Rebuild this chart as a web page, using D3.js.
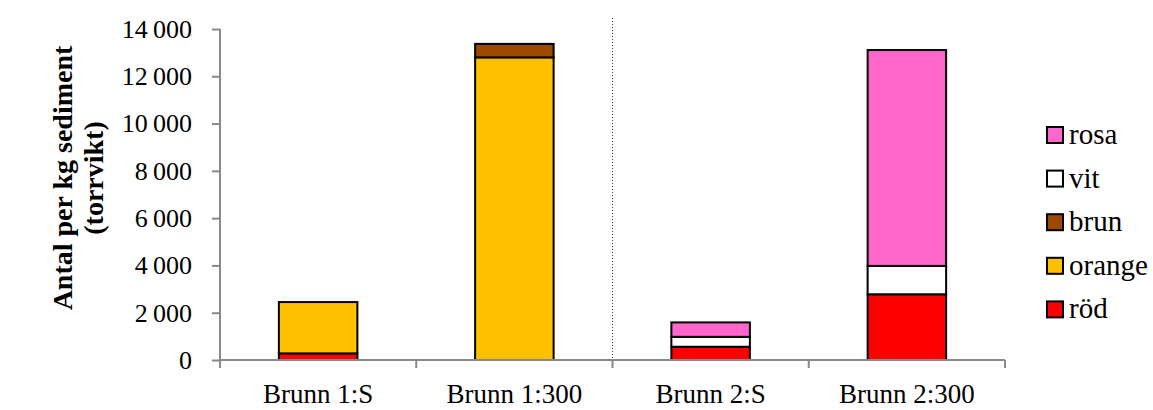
<!DOCTYPE html>
<html><head><meta charset="utf-8">
<script src="https://cdn.jsdelivr.net/npm/d3@7"></script>
</head><body style="margin:0;background:#fff">
<svg id="c" width="1153" height="410" style="display:block"></svg>
<script>
const categories = ["Brunn 1:S", "Brunn 1:300", "Brunn 2:S", "Brunn 2:300"];
const seriesNames = ["röd", "orange", "brun", "vit", "rosa"];
const rod    = [280, 0, 560, 2780];
const orange = [2170, 12800, 0, 0];
const brun   = [0, 570, 0, 0];
const vit    = [0, 0, 420, 1200];
const rosa   = [0, 0, 610, 9130];
const yTicks = [0, 2000, 4000, 6000, 8000, 10000, 12000, 14000];
const colors = {"röd":"#FF0000","orange":"#FFC000","brun":"#9C4A00","vit":"#FFFFFF","rosa":"#FF66CC"};
const valuesBySeries = {"röd":rod,"orange":orange,"brun":brun,"vit":vit,"rosa":rosa};

const table = categories.map((c,i)=>{const o={cat:c}; seriesNames.forEach(s=>o[s]=valuesBySeries[s][i]); return o;});
const stack = d3.stack().keys(seriesNames)(table);

const FF = '"Liberation Serif"';
const svg = d3.select("#c");
const x = d3.scaleBand().domain(categories).range([220, 1005]).paddingInner(0).paddingOuter(0);
const y = d3.scaleLinear().domain([0, 14000]).range([360, 29]);
const loc = d3.formatLocale({decimal:",", thousands:"\u2009", grouping:[3], currency:["",""]});
const fmt = loc.format(",d");
const axisCol = "#898989";

// bars
const barW = x.bandwidth()*0.4;
stack.forEach(layer=>{
  svg.append("g").selectAll("rect").data(layer.filter(d=>d[1]-d[0]>0)).join("rect")
    .attr("x", d=>x(d.data.cat)+(x.bandwidth()-barW)/2)
    .attr("width", barW)
    .attr("y", d=>y(d[1]))
    .attr("height", d=>y(d[0])-y(d[1]))
    .attr("fill", colors[layer.key])
    .attr("stroke", "#000").attr("stroke-width", 2);
});

// divider
svg.append("line").attr("x1", x("Brunn 2:S")).attr("x2", x("Brunn 2:S"))
  .attr("y1", 18).attr("y2", y(0)).attr("stroke", "#333").attr("stroke-width", 1).attr("stroke-dasharray", "1,2");

// y axis
const ya = svg.append("g").attr("transform", "translate(220,0)")
  .call(d3.axisLeft(y).tickValues(yTicks).tickFormat(fmt).tickSize(8).tickPadding(20));
ya.attr("font-family", null);
ya.selectAll("path,line").attr("stroke", axisCol).attr("stroke-width", 2);
ya.select("path").attr("d", `M0,${y(14000)}V${y(0)}`);
ya.selectAll("text").style("font-family", FF).style("font-size", "26px").attr("fill", "#000");

// x axis
const xa = svg.append("g").attr("transform", `translate(0,${y(0)})`)
  .call(d3.axisBottom(x).tickSize(0).tickPadding(24));
xa.attr("font-family", null);
xa.select("path").attr("d", "M220,0H1005").attr("stroke", axisCol).attr("stroke-width", 2);
xa.selectAll("text").style("font-family", FF).style("font-size", "27px").attr("fill", "#000");
const bounds = categories.map(c=>x(c)).concat([x.range()[1]]);
svg.append("g").selectAll("line").data(bounds).join("line")
  .attr("x1", d=>d).attr("x2", d=>d).attr("y1", y(0)).attr("y2", y(0)+8)
  .attr("stroke", axisCol).attr("stroke-width", 2);

// y title
const yt = svg.append("text").attr("transform", "translate(0,178) rotate(-90)")
  .attr("text-anchor", "middle").style("font-family", FF).style("font-weight", "bold").style("font-size", "28px");
yt.append("tspan").attr("x", 0).attr("y", 72).text("Antal per kg sediment");
yt.append("tspan").attr("x", 0).attr("y", 103).text("(torrvikt)");

// legend
const legRows = seriesNames.slice().reverse();
const lg = svg.append("g").selectAll("g").data(legRows).join("g")
  .attr("transform", (d,i)=>`translate(1047,${135+i*43.6})`);
lg.append("rect").attr("x", 0).attr("y", -8).attr("width", 16).attr("height", 16)
  .attr("fill", d=>colors[d]).attr("stroke", "#000").attr("stroke-width", 2);
lg.append("text").attr("x", 22).attr("y", 9).style("font-family", FF).style("font-size", "29px").text(d=>d);
</script></body></html>
